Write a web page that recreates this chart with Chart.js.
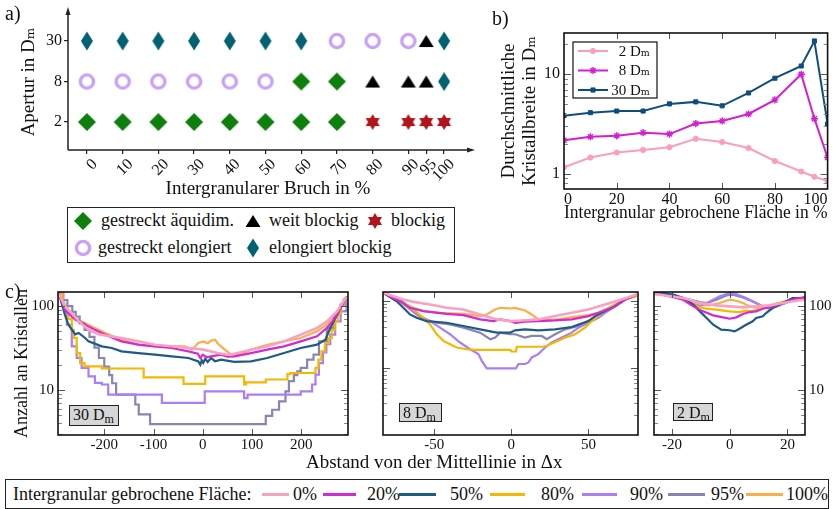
<!DOCTYPE html>
<html lang="de">
<head>
<meta charset="utf-8">
<title>Kristallmorphologie</title>
<script src="https://cdn.jsdelivr.net/npm/chart.js@4.4.1/dist/chart.umd.min.js"></script>
<style>
  html, body { margin: 0; padding: 0; background: #fff; }
  #page { position: relative; width: 833px; height: 509px; overflow: hidden;
          font-family: 'Liberation Serif', 'DejaVu Serif', serif; color: #111; }
  #page canvas { position: absolute; }
  .tag { position: absolute; font-size: 20px; line-height: 20px; }
  .dbox { position: absolute; background: #d6d6d6; border: 1.5px solid #222; box-sizing: border-box;
          font-size: 16px; line-height: 17px; padding-left: 3px; white-space: nowrap; }
  .dbox sub { font-size: 12px; vertical-align: -3px; line-height: 0; }
  .legend { position: absolute; border: 1.5px solid #222; box-sizing: border-box; background: #fff; }
  .legend span, .legend img, .legend i { position: absolute; white-space: nowrap; }
  .legend span { font-size: 18px; line-height: 20px; }
  .legend i { height: 3px; }
  #xTitleC { position: absolute; left: 306px; top: 451px; font-size: 19px; line-height: 22px; white-space: nowrap; }
</style>
</head>
<body>
<div id="page">
  <canvas id="cvA" width="480" height="200" style="left:0;top:0"></canvas>
  <canvas id="cvB" width="343" height="224" style="left:490px;top:0"></canvas>
  <canvas id="cvC30" width="352" height="175" style="left:0;top:282px"></canvas>
  <canvas id="cvC8" width="272" height="175" style="left:370px;top:282px"></canvas>
  <canvas id="cvC2" width="193" height="175" style="left:640px;top:282px"></canvas>
  <div class="tag" style="left:5px;top:3px">a)</div>
  <div class="tag" style="left:492px;top:8px">b)</div>
  <div class="tag" style="left:5px;top:281px">c)</div>
  <div id="legA" class="legend" style="left:67px;top:207px;width:388px;height:56px"></div>
  <div class="dbox" style="left:69px;top:405px;width:50px;height:21px">30 D<sub>m</sub></div>
  <div class="dbox" style="left:399px;top:403px;width:43px;height:19px">8 D<sub>m</sub></div>
  <div class="dbox" style="left:673px;top:403px;width:40px;height:18px">2 D<sub>m</sub></div>
  <div id="xTitleC">Abstand von der Mittellinie in Δx</div>
  <div id="legC" class="legend" style="left:5px;top:479px;width:824px;height:30px"></div>
</div>
<script>
// ── a) morphology map ──
const breakPct = [0, 10, 20, 30, 40, 50, 60, 70, 80, 90, 95, 100];
const apertures = ['2', '8', '30'];
const morphRow2  = ['aq', 'aq', 'aq', 'aq', 'aq', 'aq', 'aq', 'aq', 'bl', 'bl', 'bl', 'bl'];
const morphRow8  = ['el', 'el', 'el', 'el', 'el', 'el', 'aq', 'aq', 'wb', 'wb', 'wb', 'eb'];
const morphRow30 = ['eb', 'eb', 'eb', 'eb', 'eb', 'eb', 'eb', 'el', 'el', 'el', 'wb', 'eb'];
const morphKeys  = ['aq', 'wb', 'bl', 'el', 'eb'];
const morphNames = ['gestreckt äquidim.', 'weit blockig', 'blockig', 'gestreckt elongiert', 'elongiert blockig'];

// ── b) mean crystal width ──
const widthPct = [0, 10, 20, 30, 40, 50, 60, 70, 80, 90, 95, 100];
const width2  = [1.16, 1.45, 1.63, 1.73, 1.84, 2.24, 2.08, 1.81, 1.34, 1.05, 0.93, 0.84];
const width8  = [2.16, 2.35, 2.40, 2.58, 2.50, 3.19, 3.39, 3.98, 5.52, 10.0, 3.57, 1.45];
const width30 = [3.83, 4.10, 4.26, 4.26, 5.03, 5.27, 4.81, 6.48, 9.12, 12.1, 21.6, 3.16];
const widthNames = ['2 Dₘ', '8 Dₘ', '30 Dₘ'];
const widthTicksX = [0, 20, 40, 60, 80, 100];
const widthTicksY = [1, 10];
const widthMinorY = [0.8, 0.9, 2, 3, 4, 5, 6, 7, 8, 9, 20];

// ── c) crystal count vs distance from centre line ──
const fracNames = ['0%', '20%', '50%', '80%', '90%', '95%', '100%'];
const countTicksY = [10, 100];
const countMinor30 = [3, 4, 5, 6, 7, 8, 9, 20, 30, 40, 50, 60, 70, 80, 90];
const countMinor8 = [2, 3, 4, 5, 6, 7, 8, 9, 20, 30, 40, 50, 60, 70, 80, 90];
const distTicks30 = [-200, -100, 0, 100, 200];
const distTicks8 = [-50, 0, 50];
const distTicks2 = [-20, 0, 20];

// 30 Dm
const p30_f0 = [[-292,140],[-280,99],[-266,82],[-252,66],[-232,52],[-212,46],[-192,44],[-165,41.6],[-131,37.9],[-97,34.6],[-63,33.1],[-29,31.6],[1,30.2],[30,27.5],[50,26.3],[57,26.3],[75,28],[98,30.2],[131,33.1],[165,37.9],[199,45.6],[232,54.7],[252,65.6],[273,86.4],[292,130]];
const p30_f20 = [[-292,140],[-280,90],[-259,69],[-239,60],[-219,52],[-198,45.6],[-165,37.9],[-131,34.6],[-97,33.1],[-63,31.6],[-29,28.8],[-10,27],[-5,24],[0,26.3],[8,24.5],[17,25.1],[37,26.3],[50,25],[64,25.1],[98,27.5],[131,30.2],[165,33.1],[199,37.9],[232,43.6],[252,54.7],[266,68.7],[280,94.7],[292,130]];
const p30_f50 = [[-292,140],[-280,79],[-273,60],[-259,46],[-252,47.7],[-239,41.6],[-232,37.9],[-205,33.1],[-185,31.6],[-165,28.8],[-131,27.5],[-97,26.3],[-63,25.1],[-29,24],[-9,21.9],[-5,20],[-2,22.5],[1,21],[5,23.5],[10,21.5],[17,24],[25,22],[37,23],[64,21.6],[98,21.9],[131,24],[165,27.5],[199,31.6],[232,34.6],[249,39.7],[259,54.7],[273,78.8],[292,130]];
const p30_f80 = [[-292,140],[-285,105],[-280,85],[-273,70],[-266,52],[-262,41.6],[-256,27.5],[-249,20.9],[-240,19.1],[-205,18.0],[-120,14.1],[-39,11.8],[5,14.5],[84,11.6],[88,12.3],[128,13.3],[172,15.4],[178,15.9],[229,18.3],[235,23],[241,28.8],[248,36],[256,41.6],[262,52],[268,65],[274,80],[280,103],[286,120],[292,132]];
const p30_f90 = [[-292,140],[-283,95],[-276,60],[-266,33],[-256,24],[-246,18.3],[-232,14.5],[-219,12.1],[-205,11.6],[-192,8.8],[-83,7.0],[4,9.6],[84,8.0],[91,8.8],[199,9.6],[222,11.6],[229,15.2],[236,20.9],[244,28],[251,35],[259,45.6],[269,65.6],[280,86.4],[292,132]];
const p30_f95 = [[-292,140],[-284,118],[-275,100],[-265,85],[-258,75],[-250,62],[-240,52],[-230,43],[-220,32],[-211,24],[-200,19],[-190,15],[-184,12],[-176,8.8],[-137,6.7],[-130,5.1],[-107,3.9],[128,4.9],[141,5.8],[155,7.3],[168,9.6],[175,12.7],[185,15],[192,16.7],[199,18.3],[212,23],[225,26.3],[236,37.9],[252,54.7],[266,78.8],[280,103.7],[292,130]];
const p30_f100 = [[-292,140],[-280,94.7],[-266,75.3],[-246,65.6],[-219,54.7],[-198,47.7],[-165,39.7],[-131,34.6],[-97,33.1],[-63,33.1],[-36,33.1],[-22,30.2],[-9,36.3],[1,37.9],[10,36],[17,38.7],[25,39.7],[30,36],[37,33.1],[57,26.3],[77,26.3],[98,30.2],[131,34.6],[165,37.9],[199,41.6],[232,49.9],[252,59.9],[273,86.4],[292,130]];

// 8 Dm
const p8_f0 = [[-83,130],[-76.6,116],[-70.1,103.6],[-63.6,95.7],[-52.8,87.4],[-42,78.1],[-31.1,73.8],[-20.3,62.3],[-9.4,52.6],[-0.8,49.7],[6.7,50.8],[17.5,52.6],[28.4,58.9],[39.2,65.9],[50,73.8],[60.8,87.4],[69.5,100],[81.4,122.6]];
const p8_f20 = [[-83,130],[-72.3,97.9],[-65.8,78.1],[-57.1,69.8],[-42,63.7],[-31.1,60.9],[-20.3,52.6],[-11.6,49.7],[-7.3,52.6],[-0.8,49.7],[2.4,46.9],[8.9,48.6],[17.5,49.7],[28.4,50.8],[39.2,52.6],[50,58.9],[56.5,65.9],[65.2,78.1],[73.8,103.6],[81.4,122.6]];
const p8_f50 = [[-83,130],[-74.4,97.9],[-70.1,78.1],[-65.8,62.3],[-61.5,55.7],[-55,49.7],[-42,46.9],[-31.1,42.0],[-20.3,37.5],[-9.4,33.5],[-0.8,33.5],[2.4,36.3],[8.9,37.5],[17.5,36.3],[28.4,37.5],[39.2,40.6],[50,49.7],[54.4,58.9],[60.8,69.8],[67.3,82.6],[73.8,103.6],[81.4,122.6]];
const p8_f80 = [[-83,130],[-72.3,97.9],[-63.6,73.8],[-57.1,55.7],[-52.8,44.4],[-48.4,31.7],[-44.1,25.3],[-39.8,22.6],[-35.5,20.2],[-29,19.0],[-22.5,18.6],[-0.5,18.6],[0,17.6],[3,17.6],[3.5,20.7],[20,20.7],[23,21.4],[30.5,25.3],[34.9,28.3],[41.4,31.7],[47.8,39.7],[52.2,49.7],[58.7,65.9],[65.2,82.6],[73.8,103.6],[81.4,116]];
const p8_f90 = [[-83,130],[-72.3,97.9],[-61.5,62.3],[-52.8,49.7],[-46.3,39.7],[-39.8,31.7],[-33.3,23.9],[-26.8,19.0],[-21.4,16.1],[-19.2,12.8],[-16,9.9],[3,9.9],[4.6,11.5],[8.9,11.5],[11.1,12.1],[13.2,14.4],[17.5,16.1],[21.9,20.2],[26.2,23.9],[32.7,28.3],[39.2,33.5],[43.5,39.7],[50,46.9],[56.5,55.7],[65.2,78.1],[73.8,103.6],[81.4,119.9]];
const p8_f95 = [[-83,130],[-72.3,103.6],[-63.6,69.8],[-57.1,52.6],[-48.4,46.9],[-39.8,44.4],[-31.1,39.7],[-20.3,33.5],[-13.7,26.7],[-10.5,28.3],[-7.3,33.5],[-0.8,31.7],[2.4,31.7],[8.9,28.3],[13.2,29.9],[19.7,29.9],[23,26.7],[28.4,31.7],[34.9,37.5],[43.5,42.0],[50,49.7],[56.5,58.9],[65.2,76.4],[73.8,103.6],[81.4,119.9]];
const p8_f100 = [[-83,130],[-74.4,109.6],[-67.9,87.4],[-63.6,78.1],[-57.1,69.8],[-46.3,65.9],[-31.1,63.7],[-20.3,58.9],[-16,62.3],[-10.5,73.8],[-7.3,78.1],[-0.8,76.4],[2.4,78.1],[8.9,71.4],[13.2,62.3],[17.5,52.6],[21.9,51.4],[30.5,52.6],[39.2,56.9],[50,60.9],[56.5,65.9],[65.2,82.6],[73.8,103.6],[81.4,119.9]];

// 2 Dm
const p2_f0 = [[-26,138],[-24.1,136.5],[-16.1,124.5],[-10.3,108.6],[-4.6,101.8],[0,99.1],[4.6,96.4],[9.2,99.1],[13.8,101.8],[18.4,108.6],[23,115.7],[26,118.9]];
const p2_f20 = [[-26,140],[-24.1,139],[-16.1,118.9],[-12.6,99.1],[-9.2,86.4],[-5.7,77.4],[-2.3,73.3],[0,70.6],[2.3,73.3],[4.6,80.3],[6.9,84.8],[9.2,86.4],[11.5,92.9],[14.9,99.1],[18.4,108.6],[23,122.2],[26,126.8]];
const p2_f50 = [[-26,143],[-24.1,142.9],[-19.5,136.5],[-16.1,124.5],[-12.6,103.7],[-10.3,86.4],[-8,71.9],[-5.7,59.9],[-2.9,52.3],[0,51.4],[1.7,49.9],[3.4,53.7],[5.7,59.9],[8,65.7],[9.2,71.9],[11.5,75.3],[12.6,82.5],[14.9,94.7],[18.4,108.6],[21.8,124.5],[26,124.5]];
const p2_f80 = [[-26,140],[-24.1,139],[-16.1,124.5],[-11.5,99.1],[-8,92.9],[-4.6,90.4],[0,86.4],[3.4,84.8],[5.7,88],[8,86.4],[10.3,92.9],[13.8,101.8],[18.4,111.6],[23,122.2],[26,126.8]];
const p2_f90 = [[-26,143],[-24.1,142.9],[-20.7,136.5],[-16.1,118.9],[-13.8,108.6],[-10.3,99.1],[-6.9,113.6],[-3.4,130.4],[0,142.9],[2.3,139],[5.7,124.5],[9.2,108.6],[11.5,99.1],[13.8,92.9],[16.1,99.1],[20.7,113.6],[26,126.8]];
const p2_f95 = [[-26,143],[-24.1,142.9],[-16.1,124.5],[-10.3,111.6],[-8,108.6],[-4.6,118.9],[-1.1,133.9],[1.1,136.5],[4.6,126.8],[8,113.6],[11.5,99.1],[13.8,94.7],[16.1,99.1],[20.7,113.6],[26,126.8]];
const p2_f100 = [[-26,140],[-24.1,139],[-16.1,124.5],[-10.3,103.7],[-6.9,101.8],[-3.4,108.6],[0,118.9],[2.3,115.7],[4.6,108.6],[6.9,99.1],[10.3,94.7],[13.8,99.1],[18.4,111.6],[23,122.2],[26,126.8]];

// ── look ──
const SERIF = "'Liberation Serif', 'DejaVu Serif', serif";
const INK = '#111';
const FRAC_COLORS = ['#f7a2c0', '#d22ad4', '#1f5a87', '#f4b800', '#a87ff4', '#8587b0', '#fdae4a'];
const WIDTH_COLORS = ['#fb9dbf', '#d21fd2', '#0e4d7f'];
Chart.defaults.font.family = SERIF;
Chart.defaults.color = INK;

const fixW = w => s => { s.width = w; s.paddingTop = 0; s.paddingBottom = 0; };
const fixH = h => s => { s.height = h; s.paddingLeft = 0; s.paddingRight = 0; };
const setTicks = vals => s => { s.ticks = vals.map(v => ({ value: v })); };

// ── marker glyphs for panel a ──
function tri(g, pts) {
    g.beginPath();
    g.moveTo(pts[0], pts[1]); g.lineTo(pts[2], pts[3]); g.lineTo(pts[4], pts[5]);
    g.closePath(); g.fill();
}
function makeMarker(kind) {
    const c = document.createElement('canvas');
    c.width = 22; c.height = 22;
    const g = c.getContext('2d');
    const m = 11;
    if (kind === 'aq') {
        g.fillStyle = '#0d7f0d';
        g.beginPath(); g.moveTo(m, 2); g.lineTo(20, m); g.lineTo(m, 20); g.lineTo(2, m); g.closePath(); g.fill();
    } else if (kind === 'el') {
        g.strokeStyle = '#c9a2f6'; g.lineWidth = 3.4;
        g.beginPath(); g.arc(m, m, 6.6, 0, Math.PI * 2); g.stroke();
    } else if (kind === 'wb') {
        g.fillStyle = '#000';
        tri(g, [m, 5, 18.5, 17, 3.5, 17]);
    } else if (kind === 'bl') {
        g.fillStyle = '#b3141c';
        tri(g, [m, 3, m + 7, m + 4, m - 7, m + 4]);
        tri(g, [m, 19, m + 7, m - 4, m - 7, m - 4]);
    } else {
        g.fillStyle = '#006170';
        g.beginPath(); g.moveTo(m, 1.5); g.lineTo(m + 6, m); g.lineTo(m, 20.5); g.lineTo(m - 6, m); g.closePath(); g.fill();
    }
    return c;
}
const MARKERS = {};
morphKeys.forEach(k => { MARKERS[k] = makeMarker(k); });

// ── plugins ──
const arrowAxes = {
    id: 'arrowAxes',
    afterDraw(chart) {
        const { ctx, chartArea: a } = chart;
        ctx.save();
        ctx.strokeStyle = '#222'; ctx.fillStyle = '#222'; ctx.lineWidth = 1.5;
        ctx.beginPath();
        ctx.moveTo(a.left, a.bottom); ctx.lineTo(a.left, a.top - 2);
        ctx.moveTo(a.left, a.bottom); ctx.lineTo(a.right + 2, a.bottom);
        ctx.stroke();
        ctx.beginPath();
        ctx.moveTo(a.left, a.top - 7); ctx.lineTo(a.left - 2.5, a.top + 1); ctx.lineTo(a.left + 2.5, a.top + 1); ctx.closePath();
        ctx.moveTo(a.right + 7, a.bottom); ctx.lineTo(a.right - 1, a.bottom - 2.5); ctx.lineTo(a.right - 1, a.bottom + 2.5); ctx.closePath();
        ctx.fill();
        ctx.restore();
    }
};

const framePlugin = {
    id: 'frame',
    afterDatasetsDraw(chart, _args, o) {
        const { ctx, chartArea: a, scales: { x, y } } = chart;
        ctx.save();
        const seg = (x1, y1, x2, y2) => { ctx.beginPath(); ctx.moveTo(x1, y1); ctx.lineTo(x2, y2); ctx.stroke(); };
        const xt = (vals, len) => vals.forEach(v => {
            const p = Math.round(x.getPixelForValue(v)) + 0.5;
            seg(p, a.bottom, p, a.bottom - len); seg(p, a.top, p, a.top + len);
        });
        const yt = (vals, len) => vals.forEach(v => {
            const p = Math.round(y.getPixelForValue(v)) + 0.5;
            seg(a.left, p, a.left + len, p); seg(a.right, p, a.right - len, p);
        });
        ctx.lineWidth = 1;
        ctx.strokeStyle = '#555';
        xt(o.xMajor || [], 6); yt(o.yMajor || [], 7);
        ctx.strokeStyle = '#888';
        yt(o.yMinor || [], 4);
        ctx.lineWidth = 1.6; ctx.strokeStyle = INK;
        ctx.strokeRect(a.left, a.top, a.right - a.left, a.bottom - a.top);
        ctx.restore();
    }
};

const boxLegend = {
    id: 'boxLegend',
    afterDraw(chart, _args, o) {
        const { ctx } = chart;
        const [bx, by, bw, bh] = o.box;
        ctx.save();
        ctx.fillStyle = '#fff'; ctx.fillRect(bx, by, bw, bh);
        ctx.strokeStyle = INK; ctx.lineWidth = 1.2; ctx.strokeRect(bx, by, bw, bh);
        ctx.font = '15px ' + SERIF; ctx.textAlign = 'right'; ctx.textBaseline = 'middle';
        chart.data.datasets.forEach((ds, i) => {
            const yy = by + o.first + i * o.step;
            ctx.strokeStyle = ds.borderColor; ctx.fillStyle = ds.borderColor; ctx.lineWidth = ds.borderWidth;
            ctx.beginPath(); ctx.moveTo(bx + 5, yy); ctx.lineTo(bx + 35, yy); ctx.stroke();
            ctx.lineWidth = ds.pointBorderWidth;
            Chart.helpers.drawPoint(ctx, { pointStyle: ds.pointStyle, radius: ds.pointRadius, borderWidth: ds.pointBorderWidth }, bx + 20, yy);
            ctx.fillStyle = INK; ctx.fillText(ds.label, bx + bw - 7, yy + 1);
        });
        ctx.restore();
    }
};

// ── a) ──
const morphRows = [morphRow2, morphRow8, morphRow30];
function morphPoints(key) {
    const pts = [];
    morphRows.forEach((row, yi) => row.forEach((k, xi) => { if (k === key) pts.push({ x: breakPct[xi], y: yi }); }));
    return pts;
}

new Chart(document.getElementById('cvA'), {
    type: 'scatter',
    data: {
        datasets: morphKeys.map((k, i) => ({
            label: morphNames[i],
            data: morphPoints(k),
            pointStyle: MARKERS[k],
            pointRadius: 9,
            clip: false
        }))
    },
    options: {
        responsive: false, animation: false, events: [],
        layout: { padding: { top: 14, right: 12, left: 0, bottom: 0 } },
        plugins: { legend: { display: false }, tooltip: { enabled: false } },
        scales: {
            x: {
                type: 'linear', min: -5.3, max: 106.7,
                border: { display: false },
                grid: { drawOnChartArea: false, tickLength: 4, color: '#222', lineWidth: 1.2 },
                afterBuildTicks: setTicks(breakPct),
                afterFit: fixH(50),
                ticks: { autoSkip: false, minRotation: 45, maxRotation: 45, padding: 1, labelOffset: 8, color: INK, font: { size: 16 } },
                title: { display: true, text: 'Intergranularer Bruch in %', color: INK, font: { size: 19 }, padding: { top: 0, bottom: 0 } }
            },
            y: {
                type: 'linear', min: -0.69, max: 2.667,
                border: { display: false },
                grid: { drawOnChartArea: false, tickLength: 4, color: '#222', lineWidth: 1.2 },
                afterBuildTicks: setTicks([0, 1, 2]),
                afterFit: fixW(68),
                ticks: { padding: 2, color: INK, font: { size: 16 }, callback: v => apertures[v] },
                title: { display: true, text: 'Apertur in Dₘ', color: INK, font: { size: 19 }, padding: { top: 18, bottom: 0 } }
            }
        }
    },
    plugins: [arrowAxes]
});

// legend a (html)
const LEG_A_POS = [[15, 33, 14], [185, 201, 14], [307, 323, 14], [15, 30, 41], [185, 201, 41]];
const legA = document.getElementById('legA');
morphKeys.forEach((k, i) => {
    const [ix, tx, cy] = LEG_A_POS[i];
    const img = document.createElement('img');
    img.src = MARKERS[k].toDataURL();
    img.style.left = (ix - 11) + 'px'; img.style.top = (cy - 12) + 'px';
    const sp = document.createElement('span');
    sp.textContent = morphNames[i];
    sp.style.left = tx + 'px'; sp.style.top = (cy - 12) + 'px';
    legA.append(img, sp);
});

// ── b) ──
const widthSeries = [width2, width8, width30];
const widthMarks = [['circle', 2.6, 1], ['star', 3.6, 1.4], ['rect', 2.9, 1]];
new Chart(document.getElementById('cvB'), {
    type: 'line',
    data: {
        datasets: widthSeries.map((vals, i) => ({
            label: widthNames[i],
            data: widthPct.map((x, j) => ({ x, y: vals[j] })),
            borderColor: WIDTH_COLORS[i],
            backgroundColor: WIDTH_COLORS[i],
            pointBackgroundColor: WIDTH_COLORS[i],
            pointBorderColor: WIDTH_COLORS[i],
            borderWidth: 2,
            pointStyle: widthMarks[i][0],
            pointRadius: widthMarks[i][1],
            pointBorderWidth: widthMarks[i][2],
            tension: 0
        }))
    },
    options: {
        responsive: false, animation: false, events: [],
        layout: { padding: { top: 33, right: 2, left: 0, bottom: 0 } },
        plugins: {
            legend: { display: false }, tooltip: { enabled: false },
            frame: { xMajor: [20, 40, 60, 80], yMajor: widthTicksY, yMinor: widthMinorY },
            boxLegend: { box: [83, 42, 84, 56], first: 9, step: 19.5 }
        },
        scales: {
            x: {
                type: 'linear', min: 0, max: 100,
                border: { display: false }, grid: { display: false, drawTicks: false },
                afterBuildTicks: setTicks(widthTicksX),
                afterFit: fixH(35),
                ticks: { align: 'inner', padding: 1, maxRotation: 0, color: INK, font: { size: 16 } },
                title: { display: true, text: 'Intergranular gebrochene Fläche in %', color: INK, font: { size: 19 }, padding: { top: 0, bottom: 0 } }
            },
            y: {
                type: 'logarithmic', min: 0.74, max: 26,
                border: { display: false }, grid: { display: false, drawTicks: false },
                afterBuildTicks: setTicks(widthTicksY),
                afterFit: fixW(74),
                ticks: { padding: 4, color: INK, font: { size: 16 }, callback: v => String(v) },
                title: { display: true, text: ['Durchschnittliche', 'Kristallbreite in Dₘ'], color: INK,
                         font: { size: 19, lineHeight: 1.1 }, padding: { top: 9, bottom: 0 } }
            }
        }
    },
    plugins: [framePlugin, boxLegend]
});

// ── c) ──
const steppedFrac = [false, false, false, true, true, true, false];
function makeProfile(id, series, o) {
    const yAxis = {
        type: 'logarithmic', min: o.yMin, max: o.yMax,
        display: o.yPos !== 'none',
        position: o.yPos === 'right' ? 'right' : 'left',
        border: { display: false }, grid: { display: false, drawTicks: false },
        afterBuildTicks: setTicks(countTicksY),
        ticks: { padding: 4, color: INK, font: { size: 15 }, callback: v => String(v) }
    };
    if (o.yWidth) yAxis.afterFit = fixW(o.yWidth);
    if (o.yTitle) yAxis.title = { display: true, text: o.yTitle, color: INK, font: { size: 18 }, padding: { top: 11, bottom: 0 } };
    return new Chart(document.getElementById(id), {
        type: 'line',
        data: {
            datasets: series.map((pts, i) => ({
                label: fracNames[i],
                data: pts.map(([x, y]) => ({ x, y })),
                borderColor: FRAC_COLORS[i],
                borderWidth: i === 0 ? 2.6 : 2.2,
                pointRadius: 0,
                // horizontal first, then vertical: the plateaus of the count curves
                stepped: o.stepped && steppedFrac[i] ? 'before' : false,
                tension: 0
            }))
        },
        options: {
            responsive: false, animation: false, events: [],
            layout: { padding: o.pad },
            plugins: {
                legend: { display: false }, tooltip: { enabled: false },
                frame: { xMajor: o.xTicks, yMajor: countTicksY, yMinor: o.yMinor }
            },
            scales: {
                x: {
                    type: 'linear', min: o.xMin, max: o.xMax,
                    border: { display: false }, grid: { display: false, drawTicks: false },
                    afterBuildTicks: setTicks(o.xTicks),
                    afterFit: fixH(22),
                    ticks: { padding: 1, maxRotation: 0, autoSkip: false, color: INK, font: { size: 15 } }
                },
                y: yAxis
            }
        },
        plugins: [framePlugin]
    });
}

makeProfile('cvC30', [p30_f0, p30_f20, p30_f50, p30_f80, p30_f90, p30_f95, p30_f100], {
    xMin: -294, xMax: 295, xTicks: distTicks30, yMin: 2.9, yMax: 147, yMinor: countMinor30,
    yPos: 'left', yWidth: 58, yTitle: 'Anzahl an Kristallen', stepped: true,
    pad: { top: 10, right: 4, left: 0, bottom: 0 }
});
makeProfile('cvC8', [p8_f0, p8_f20, p8_f50, p8_f80, p8_f90, p8_f95, p8_f100], {
    xMin: -83.3, xMax: 82.2, xTicks: distTicks8, yMin: 1.02, yMax: 134, yMinor: countMinor8,
    yPos: 'none', stepped: false,
    pad: { top: 10, right: 4, left: 13, bottom: 0 }
});
makeProfile('cvC2', [p2_f0, p2_f20, p2_f50, p2_f80, p2_f90, p2_f95, p2_f100], {
    xMin: -26.2, xMax: 26.1, xTicks: distTicks2, yMin: 2.9, yMax: 147, yMinor: countMinor30,
    yPos: 'right', yWidth: 28, stepped: false,
    pad: { top: 10, right: 0, left: 14, bottom: 0 }
});

// legend c (html)
const LEG_C_LINES = [[256, 283, 287], [317, 350, 361], [393, 430, 444], [484, 519, 535], [576, 611, 624], [662, 699, 705], [740, 777, 780]];
const legC = document.getElementById('legC');
const head = document.createElement('span');
head.textContent = 'Intergranular gebrochene Fläche:';
head.style.left = '7px'; head.style.top = '4px';
legC.append(head);
fracNames.forEach((name, i) => {
    const [l0, l1, tx] = LEG_C_LINES[i];
    const ln = document.createElement('i');
    ln.style.left = l0 + 'px'; ln.style.width = (l1 - l0) + 'px'; ln.style.top = '13px';
    ln.style.background = FRAC_COLORS[i];
    const sp = document.createElement('span');
    sp.textContent = name;
    sp.style.left = tx + 'px'; sp.style.top = '4px';
    legC.append(ln, sp);
});
</script>
</body>
</html>
